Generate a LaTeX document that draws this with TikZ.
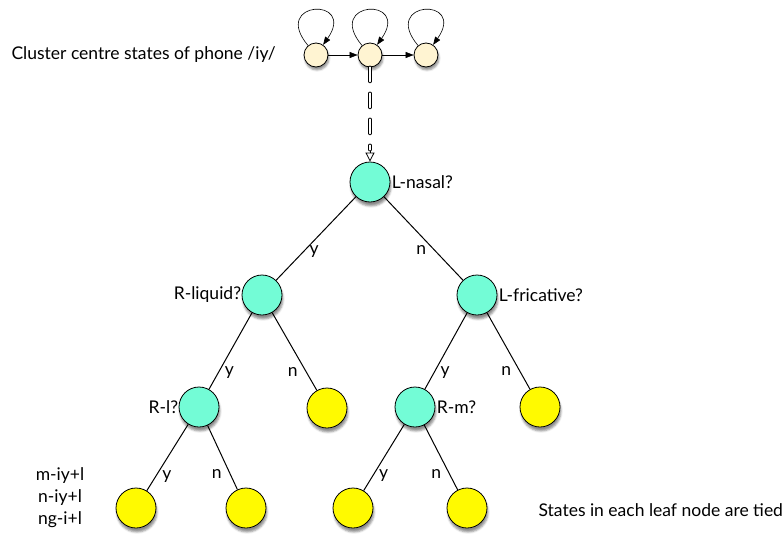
\documentclass[tikz,border=0pt]{standalone}
\usepackage{fontspec}
\setmainfont{Lato}
\usetikzlibrary{arrows.meta,shadows.blur}
\definecolor{stategold}{RGB}{255,244,210}
\definecolor{qaqua}{RGB}{115,252,214}
\definecolor{leafyellow}{RGB}{255,250,0}
\tikzset{
  hmm/.style={circle,draw,line width=.8pt,fill=stategold,minimum size=24pt,inner sep=0pt,
    blur shadow={shadow xshift=1pt,shadow yshift=-3pt,shadow opacity=45}},
  quest/.style={circle,draw,line width=.8pt,fill=qaqua,minimum size=40pt,inner sep=0pt,
    blur shadow={shadow xshift=1pt,shadow yshift=-4pt,shadow opacity=45}},
  leaf/.style={quest,fill=leafyellow},
  yes/.style={pos=.78,anchor=west,inner sep=6pt},
  no/.style={pos=.76,anchor=east,inner sep=8pt},
  hollowdash/.style={line width=3.6pt,line cap=round,dash pattern=on 14pt off 12pt,shorten >=12pt,
    postaction={draw=white,line width=1.8pt}},
  openhead/.style={line width=.8pt,shorten <=84pt,-{Triangle[open,length=9pt,width=9pt]}}
}
\begin{document}
\begin{tikzpicture}[x=1pt,y=1pt,font=\fontsize{17.5}{22}\selectfont]
  \useasboundingbox (0,0) rectangle (782,-533);
  % hmm states
  \draw
    (316,-55) node[hmm] (s1){}
    (370,-55) node[hmm] (s2){}
    (426,-55) node[hmm] (s3){};
  \node[anchor=west] (cluster) at (8,-55) {Cluster centre states of phone /iy/};
  \begin{scope}[-{Triangle[length=8pt,width=6pt]},line width=.6pt]
    \draw (s1) to[out=130,in=55,looseness=10] (s1);
    \draw (s2) to[out=130,in=55,looseness=10] (s2);
    \draw (s3) to[out=130,in=55,looseness=10] (s3);
    \draw (s1) -- (s2);
    \draw (s2) -- (s3);
  \end{scope}
  % tree
  \draw
    (370,-182) node[quest,label={[xshift=-2pt]right:L-nasal?}] (nasal){}
    (262,-295) node[quest,label={[xshift=3pt]left:R-liquid?}] (liquid){}
    (477,-295) node[quest,label={[xshift=-2pt]right:L-fricative?}] (fric){}
    (199,-407) node[quest,label={[xshift=3pt]left:R-l?}] (rl){}
    (327,-408) node[leaf] (leafa){}
    (415,-407) node[quest,label={[xshift=-2pt]right:R-m?}] (rm){}
    (540,-407) node[leaf] (leafb){}
    (136,-508) node[leaf] (leafc){}
    (246,-508) node[leaf] (leafd){}
    (353,-508) node[leaf] (leafe){}
    (467,-508) node[leaf] (leaff){};
  \draw[hollowdash] (s2) -- (nasal);
  \draw[openhead] (s2) -- (nasal);
  \begin{scope}[line width=1pt]
    \draw (nasal) -- node[yes,pos=.66]{y} (liquid);
    \draw (nasal) -- node[no,pos=.64]{n} (fric);
    \draw (liquid) -- node[yes]{y} (rl);
    \draw (liquid) -- node[no]{n} (leafa);
    \draw (fric) -- node[yes]{y} (rm);
    \draw (fric) -- node[no]{n} (leafb);
    \draw (rl) -- node[yes]{y} (leafc);
    \draw (rl) -- node[no]{n} (leafd);
    \draw (rm) -- node[yes]{y} (leafe);
    \draw (rm) -- node[no]{n} (leaff);
  \end{scope}
  \node[align=center] (tied) at (60,-498) {m-iy+l\\n-iy+l\\ng-i+l};
  \node[anchor=west] (note) at (535,-510) {States in each leaf node are tied};
\end{tikzpicture}
\end{document}
